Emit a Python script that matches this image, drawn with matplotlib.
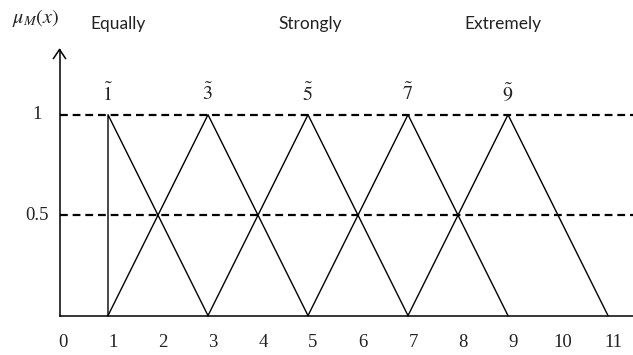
import matplotlib
matplotlib.use("Agg")
import matplotlib.pyplot as plt

# triangular fuzzy numbers (l, m, u)
peaks = [1, 3, 5, 7, 9]
lowers = [1, 1, 3, 5, 7]
uppers = [3, 5, 7, 9, 11]
peak_labels = [r"$\tilde{1}$", r"$\tilde{3}$", r"$\tilde{5}$", r"$\tilde{7}$", r"$\tilde{9}$"]

x_ticks = list(range(0, 12))
y_levels = [0.5, 1]
y_labels = ["0.5", "1"]

scale_words = ["Equally", "Strongly", "Extremely"]
scale_word_x = [1.2, 5.05, 8.9]

plt.rcParams["mathtext.fontset"] = "stix"

fig = plt.figure(figsize=(6.33, 3.55), dpi=100)
ax = fig.add_axes([0, 0, 1, 1])
ax.set_xlim(-1.16, 11.5)
ax.set_ylim(-0.196, 1.571)
ax.axis("off")

x0 = 0.03  # where the vertical axis sits
num_font = dict(family="Liberation Serif", fontsize=13.5, color="#222222")

# axes
ax.plot([x0, 11.5], [0, 0], color="black", lw=1.1)
ax.plot([x0, x0], [0, 1.32], color="black", lw=1.1)
ax.plot([x0 - 0.12, x0, x0 + 0.12], [1.28, 1.325, 1.28], color="black", lw=1.1)

# dashed reference levels
for lv in y_levels:
    ax.plot([x0, 11.5], [lv, lv], color="black", lw=1.6, ls=(0, (3.5, 2.2)))

# membership functions
for l, m, u in zip(lowers, peaks, uppers):
    ax.plot([l, m, u], [0, 1, 0], color="black", lw=1.0)

# tilde labels above peaks
for m, lab in zip(peaks, peak_labels):
    ax.text(m, 1.105, lab, ha="center", va="center", fontsize=14.5, color="#222222")

# x tick labels
for t in x_ticks:
    ax.text(t + 0.1, -0.135, str(t), ha="center", va="center", **num_font)

# y tick labels
for lv, lab in zip(y_levels, y_labels):
    ax.text(-0.42, lv, lab, ha="center", va="center", **num_font)

# linguistic scale words
for w, wx in zip(scale_words, scale_word_x):
    ax.text(wx, 1.45, w, ha="center", va="center", family="Lato", fontsize=12.5, color="#222222")

ax.text(-0.92, 1.48, r"$\mu_M(x)$", ha="left", va="center", fontsize=14.5, color="#222222")

fig.savefig("out.png", dpi=100, facecolor="white")
